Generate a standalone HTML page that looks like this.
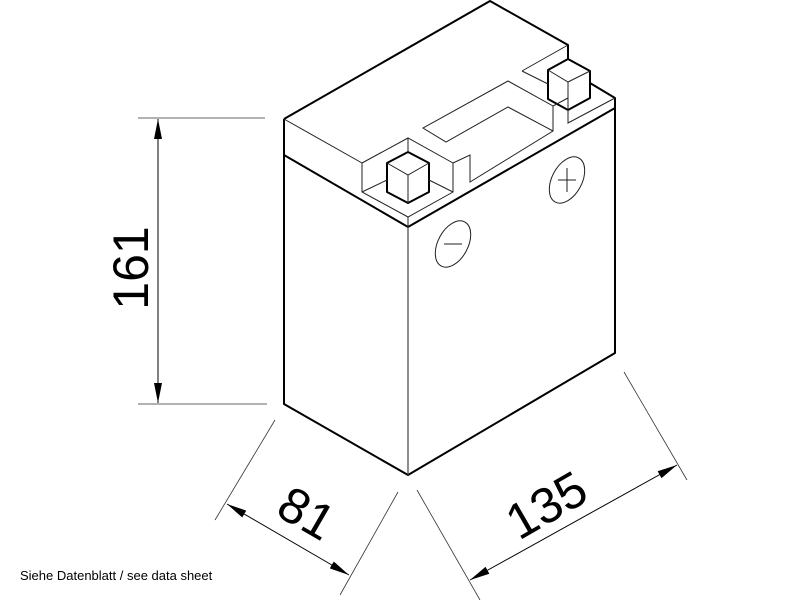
<!DOCTYPE html><html><head><style>body{margin:0;background:#fff;width:800px;height:600px;overflow:hidden;font-family:"Liberation Sans",sans-serif}</style></head><body>
<svg width="800" height="600" viewBox="0 0 800 600" xmlns="http://www.w3.org/2000/svg">
<defs><marker id="a" viewBox="0 0 20 8" refX="20" refY="4" markerWidth="20" markerHeight="8" markerUnits="userSpaceOnUse" orient="auto-start-reverse"><path d="M0,0L20,4L0,8z" fill="#000"/></marker></defs>
<g fill="none" stroke="#000" stroke-width="2" stroke-linejoin="round">
<path d="M284,119 L490,1 L568,45 L568,60"/>
<path d="M590,83 L615,98 L615,353 L408,475 L284,404 L284,119"/>
<path d="M284,155 L408,227 L615,108"/>
<path d="M408,227 L408,475" stroke-width="1.2" stroke="#444"/>
<path d="M387,163 L408,152 L429,163 L429,192 L408,203 L387,192 Z"/>
<path d="M548,70 L568,59 L590,71 L590,98 L568,110 L548,99 Z"/>
</g>
<g fill="none" stroke="#222" stroke-width="1">
<path d="M284,119 L362,163 L362,192 L408,217 L453,192 L453,163 L408,138 L362,163"/>
<path d="M362,192 L387,180 M429,180 L453,192 M408,138 L408,152 M408,217 L408,227"/>
<path d="M387,163 L408,175 L429,163 M408,175 L408,203"/>
<path d="M548,70 L568,82 L590,71 M568,82 L568,110"/>
<path d="M453,163 L470,155 L470,182 L553,131 L553,106 L508,81 L423,128 L446,142 L508,107 L553,131"/>
<path d="M553,106 L568,98 M522,71 L568,45 M522,71 L548,84 M568,110 L568,123 L615,98"/>
<ellipse cx="567" cy="180" rx="15" ry="25" transform="rotate(28 567 180)"/>
<path d="M558,180 L576,180 M567,168 L567,192"/>
<ellipse cx="453" cy="244" rx="15" ry="25" transform="rotate(28 453 244)"/>
<path d="M444,244 L462,244"/>
</g>
<g stroke="#333" stroke-width="0.8" fill="none">
<path d="M138,118 L265,118 M138,404 L267,404"/>
<path d="M275,420 L215,520 M398,492 L340,595"/>
<path d="M417,490 L480,600 M624,372 L687,480"/>
</g>
<g stroke="#000" stroke-width="1" fill="none">
<path d="M158,119 L158,403" marker-start="url(#a)" marker-end="url(#a)"/>
<path d="M227,504 L349,575" marker-start="url(#a)" marker-end="url(#a)"/>
<path d="M470,580 L677,465" marker-start="url(#a)" marker-end="url(#a)"/>
</g>
<g font-family="Liberation Sans, sans-serif" font-size="50" fill="#000" font-weight="300">
<text x="0" y="0" transform="translate(148,268) rotate(-90)" text-anchor="middle">161</text>
<text x="0" y="0" transform="translate(298,528) rotate(30)" text-anchor="middle">81</text>
<text x="0" y="0" transform="translate(555,520) rotate(-30)" text-anchor="middle">135</text>
</g>
<text x="20" y="580" font-size="13" fill="#000">Siehe Datenblatt / see data sheet</text>
</svg>
</body></html>
